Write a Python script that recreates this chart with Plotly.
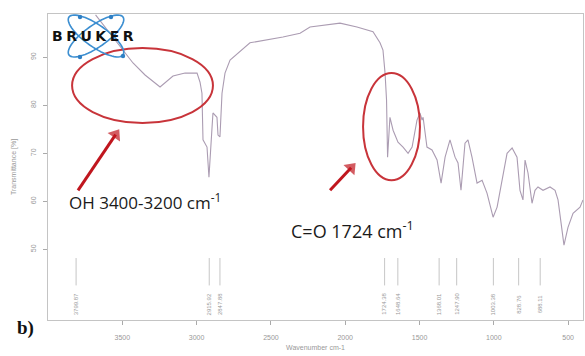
import math
import plotly.graph_objects as go

# ---- spectrum data ----
wavenumber = [3680, 3583, 3495, 3428, 3347, 3246, 3159, 3078, 2997, 2977, 2964, 2957,
              2930, 2917, 2896, 2890, 2863, 2856, 2843, 2829, 2809, 2775, 2641, 2419, 2304,
              2237, 2035, 1921, 1813, 1766, 1746, 1732, 1722, 1715, 1699, 1678, 1645, 1611,
              1577, 1550, 1517, 1497, 1483, 1476, 1450, 1416, 1382, 1355, 1328, 1295, 1261,
              1241, 1221, 1194, 1174, 1147, 1113, 1079, 1046, 1005, 978, 945, 911, 877, 844,
              824, 804, 790, 770, 743, 723, 703, 669, 622, 588, 568, 541, 528, 501, 467, 420, 400]
transmittance = [98.8, 95.0, 91.5, 88.8, 86.3, 83.8, 86.1, 86.7, 86.7, 84.8, 82.5, 72.8,
                 71.3, 65.0, 75.5, 78.4, 77.5, 73.8, 73.4, 82.5, 86.7, 89.4, 93.0, 94.2, 95.0,
                 96.3, 97.1, 96.3, 95.3, 93.0, 91.5, 86.7, 81.1, 69.2, 77.5, 74.8, 72.3, 71.3,
                 70.0, 71.3, 76.9, 78.4, 76.9, 77.5, 71.3, 70.7, 68.6, 63.8, 69.2, 72.8, 69.2,
                 68.0, 62.3, 72.1, 72.8, 69.2, 63.8, 64.4, 61.7, 56.7, 58.8, 64.4, 70.0, 71.1, 69.2,
                 62.3, 60.3, 68.6, 65.9, 59.6, 62.3, 63.0, 62.3, 63.0, 62.3, 60.3, 54.0, 50.9, 54.6, 57.5, 58.8, 60.3]

peak_positions = [3811, 2915, 2843, 1735, 1646, 1368, 1250, 1003, 833, 688]
peak_labels = ["3799.87", "2915.92", "2847.88", "1724.38", "1648.64",
               "1368.01", "1247.90", "1003.38", "828.76", "688.11"]

x_ticks = [3500, 3000, 2500, 2000, 1500, 1000, 500]
y_ticks = [50, 60, 70, 80, 90]

X_RANGE = [4000, 400]
Y_RANGE = [35.3, 99.0]

L, R, T, B = 48, 2, 14, 36
W, H = 585, 356
PW, PH = W - L - R, H - T - B


def px2paper(x, y):
    return (x - L) / PW, (H - B - y) / PH


fig = go.Figure()

fig.add_trace(go.Scatter(x=wavenumber, y=transmittance, mode="lines",
                         line=dict(color="#ab9cb2", width=1.1), hoverinfo="skip",
                         showlegend=False))

# peak marker lines
for p in peak_positions:
    fig.add_trace(go.Scatter(x=[p, p], y=[48.2, 42.5], mode="lines",
                             line=dict(color="#b8b8b8", width=0.8),
                             hoverinfo="skip", showlegend=False))
for p, lab in zip(peak_positions, peak_labels):
    fig.add_annotation(x=p, y=38.6, text=lab, showarrow=False, textangle=-90,
                       font=dict(size=6, color="#999999", family="Liberation Sans"))

# red ellipses
fig.add_shape(type="circle", xref="x", yref="y", x0=3838, x1=2890, y0=91.9, y1=76.3,
              line=dict(color="#c8343a", width=2))
fig.add_shape(type="circle", xref="x", yref="y", x0=1880, x1=1497, y0=86.7, y1=64.4,
              line=dict(color="#c8343a", width=2))

# arrows (line + arrow head marker)
for (x0, y0, x1, y1) in [(3798, 62.3, 3545, 73.9), (2102, 62.3, 1960, 67.0)]:
    fig.add_trace(go.Scatter(x=[x0, x1], y=[y0, y1], mode="lines+markers",
                             line=dict(color="#c0161e", width=3),
                             marker=dict(symbol=["circle", "triangle-up"], size=[0, 13],
                                         angleref="previous", color="#c0161e",
                                         line=dict(width=0)),
                             hoverinfo="skip", showlegend=False))

# texts
tx, ty = px2paper(67, 201)
fig.add_annotation(x=tx, y=ty, xref="paper", yref="paper", xanchor="left", yanchor="middle",
                   text="OH 3400-3200 cm<sup>-1</sup>", showarrow=False,
                   font=dict(size=17, color="#1a1a1a", family="Open Sans"))
tx, ty = px2paper(289, 230)
fig.add_annotation(x=tx, y=ty, xref="paper", yref="paper", xanchor="left", yanchor="middle",
                   text="C=O 1724 cm<sup>-1</sup>", showarrow=False,
                   font=dict(size=18, color="#1a1a1a", family="Open Sans"))

# b) label
tx, ty = px2paper(15, 328)
fig.add_annotation(x=tx, y=ty, xref="paper", yref="paper", xanchor="left", yanchor="middle",
                   text="<b>b)</b>", showarrow=False,
                   font=dict(size=19, color="#111111", family="Liberation Serif"))


# BRUKER logo: two tilted ellipses
def ellipse_path(cx, cy, a, b, ang):
    pts = []
    for i in range(61):
        t = 2 * math.pi * i / 60
        ex, ey = a * math.cos(t), b * math.sin(t)
        x = cx + ex * math.cos(ang) - ey * math.sin(ang)
        y = cy + ex * math.sin(ang) + ey * math.cos(ang)
        px, py = px2paper(x, y)
        pts.append(f"{px:.5f},{py:.5f}")
    return "M" + " L".join(pts) + " Z"


for ang in (math.radians(35), math.radians(-35)):
    fig.add_shape(type="path", xref="paper", yref="paper",
                  path=ellipse_path(96, 36, 33, 11, ang),
                  line=dict(color="#3d8fd1", width=1.6), fillcolor="rgba(0,0,0,0)")
for (dx, dy) in [(80, 17), (80, 57), (123, 56), (111, 17)]:
    px, py = px2paper(dx, dy)
    fig.add_shape(type="circle", xref="paper", yref="paper",
                  x0=px - 2.2 / PW, x1=px + 2.2 / PW, y0=py - 2.2 / PH, y1=py + 2.2 / PH,
                  fillcolor="#2f7fc4", line=dict(width=0))
bx, by = px2paper(50, 36)
fig.add_annotation(x=bx, y=by, xref="paper", yref="paper", showarrow=False,
                   xanchor="left", yanchor="middle",
                   text='<span style="letter-spacing:3.5px">BRUKER</span>',
                   font=dict(size=14, color="#111111", family="DejaVu Sans", weight="bold"))

fig.update_layout(
    width=W, height=H,
    margin=dict(l=L, r=R, t=T, b=B, autoexpand=False),
    paper_bgcolor="white", plot_bgcolor="white",
    showlegend=False,
    font=dict(family="Liberation Sans", color="#999999"),
)
fig.update_xaxes(range=X_RANGE, tickvals=x_ticks, ticktext=[str(v) for v in x_ticks],
                 ticks="outside", ticklen=4, tickcolor="#aaaaaa", tickfont=dict(size=7, color="#999999"),
                 ticklabelstandoff=7,
                 showgrid=False, zeroline=False, showline=True, linecolor="#c4c4c4", linewidth=1,
                 mirror=True, automargin=False,
                 title=dict(text="Wavenumber cm-1", font=dict(size=7, color="#999999"), standoff=4))
fig.update_yaxes(range=Y_RANGE, tickvals=y_ticks, ticktext=[str(v) for v in y_ticks],
                 ticks="outside", ticklen=4, tickcolor="#aaaaaa", tickangle=-90,
                 tickfont=dict(size=7, color="#999999"), ticklabelstandoff=4,
                 showgrid=False, zeroline=False, showline=True, linecolor="#c4c4c4", linewidth=1,
                 mirror=True, automargin=False,
                 title=dict(text="Transmittance [%]", font=dict(size=7, color="#999999"), standoff=12))

fig.write_html("out.html", post_script="document.body.style.margin='0px';",
               config={"displayModeBar": False})
